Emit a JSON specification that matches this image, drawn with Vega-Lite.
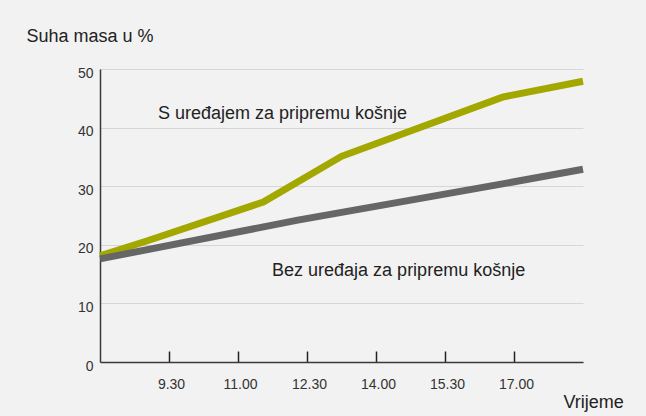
{
  "$schema": "https://vega.github.io/schema/vega-lite/v6.json",
  "width": 483,
  "height": 293,
  "autosize": "none",
  "padding": {"left": 100, "top": 69, "right": 63, "bottom": 54},
  "background": "#f2f2f2",
  "config": {
    "view": {"stroke": null},
    "font": "Liberation Sans",
    "axis": {"labelFont": "Liberation Sans", "titleFont": "Liberation Sans"}
  },
  "datasets": {
    "lines": [
      {"serie": "S uređajem", "sat": 8.0, "vrijednost": 18.1},
      {"serie": "S uređajem", "sat": 9.0, "vrijednost": 20.6},
      {"serie": "S uređajem", "sat": 11.55, "vrijednost": 27.3},
      {"serie": "S uređajem", "sat": 13.25, "vrijednost": 35.1},
      {"serie": "S uređajem", "sat": 16.75, "vrijednost": 45.2},
      {"serie": "S uređajem", "sat": 18.5, "vrijednost": 47.9},
      {"serie": "Bez uređaja", "sat": 8.0, "vrijednost": 17.6},
      {"serie": "Bez uređaja", "sat": 12.3, "vrijednost": 24.2},
      {"serie": "Bez uređaja", "sat": 16.75, "vrijednost": 30.4},
      {"serie": "Bez uređaja", "sat": 18.5, "vrijednost": 32.9}
    ],
    "labels": [
      {"tekst": "S uređajem za pripremu košnje", "sat": 9.26, "vrijednost": 41.5},
      {"tekst": "Bez uređaja za pripremu košnje", "sat": 11.74, "vrijednost": 14.7}
    ]
  },
  "layer": [
    {
      "data": {"name": "lines"},
      "mark": {"type": "line", "strokeWidth": 7, "strokeCap": "butt", "strokeJoin": "miter"},
      "encoding": {
        "x": {
          "field": "sat", "type": "quantitative",
          "scale": {"domain": [8, 18.5], "nice": false, "zero": false},
          "axis": {
            "values": [9.5, 11, 12.5, 14, 15.5, 17],
            "labelExpr": "floor(datum.value) + '.' + (datum.value % 1 ? '30' : '00')",
            "grid": false,
            "domainColor": "#3a3a3a", "domainWidth": 1.5,
            "tickColor": "#222", "tickSize": -11, "tickWidth": 1.5,
            "labelFontSize": 14, "labelColor": "#333", "labelPadding": 26, "labelOffset": 2,
            "labelBaseline": "top",
            "title": "Vrijeme", "titleFontSize": 18, "titleFontWeight": "normal", "titleColor": "#222",
            "titleX": 463, "titleY": 45, "titleAlign": "left", "titleBaseline": "alphabetic", "titleAnchor": null
          }
        },
        "y": {
          "field": "vrijednost", "type": "quantitative",
          "scale": {"domain": [0, 50], "nice": false},
          "axis": {
            "values": [0, 10, 20, 30, 40, 50],
            "ticks": false,
            "grid": true, "gridColor": "#d6d6d6", "gridWidth": 1.2,
            "domainColor": "#3a3a3a", "domainWidth": 1.5,
            "labelFontSize": 14, "labelColor": "#333", "labelPadding": 7, "labelOffset": 4,
            "title": "Suha masa u %", "titleFontSize": 18, "titleFontWeight": "normal", "titleColor": "#222",
            "titleAngle": 0, "titleX": -74, "titleY": -28, "titleAlign": "left", "titleBaseline": "alphabetic", "titleAnchor": null
          }
        },
        "detail": {"field": "serie"},
        "color": {
          "field": "serie", "type": "nominal",
          "scale": {"domain": ["S uređajem", "Bez uređaja"], "range": ["#a3a800", "#666666"]},
          "legend": null
        }
      }
    },
    {
      "data": {"name": "labels"},
      "mark": {"type": "text", "align": "left", "baseline": "alphabetic", "fontSize": 18, "color": "#222"},
      "encoding": {
        "x": {"field": "sat", "type": "quantitative"},
        "y": {"field": "vrijednost", "type": "quantitative"},
        "text": {"field": "tekst"}
      }
    }
  ]
}
